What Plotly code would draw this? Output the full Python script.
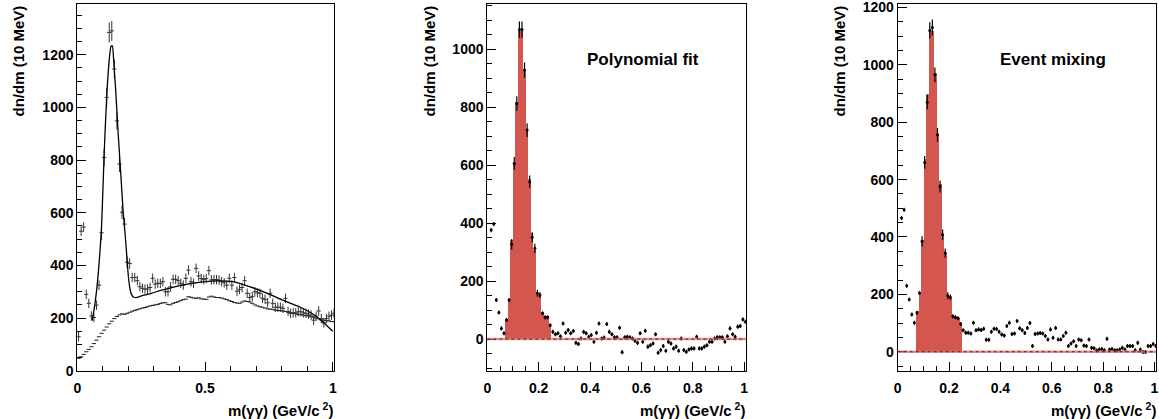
import plotly.graph_objects as go

# bin centres, 10 MeV bins (0.005 .. 1.005 GeV)
bins = [round(0.005 + 0.01 * i, 3) for i in range(101)]

# --- left panel: raw m(gg) spectrum -------------------------------------
raw_counts = [129, 530, 546, 290, 256, 208, 202, 249, 325, 524,
              810, 1038, 1285, 1291, 1146, 949, 785, 602, 557, 412,
              407, 354, 354, 342, 319, 313, 310, 310, 316, 351,
              329, 332, 332, 338, 300, 300, 319, 347, 347, 342,
              332, 325, 351, 382, 338, 332, 389, 360, 350, 346,
              350, 380, 345, 346, 346, 344, 338, 334, 325, 351,
              325, 354, 302, 309, 316, 342, 294, 278, 281, 300,
              296, 294, 275, 271, 258, 294, 256, 241, 241, 241,
              237, 275, 225, 218, 220, 220, 224, 224, 220, 218,
              215, 211, 192, 207, 227, 198, 182, 198, 207, 211, 218]
raw_err = [18] * 9 + [28, 32, 36, 38, 38, 36, 33, 30, 26, 24, 22, 20] + [18] * 80

mixed_bg = [47, 53, 62, 72, 81, 91, 103, 116, 129, 142,
            154, 166, 178, 188, 198, 206, 212, 216, 214, 218,
            222, 226, 229, 232, 235, 238, 240, 243, 246, 248,
            250, 252, 255, 258, 258, 252, 250, 256, 259, 262,
            266, 270, 272, 281, 279, 276, 275, 277, 273, 272,
            271, 280, 283, 280, 278, 278, 276, 273, 270, 266,
            263, 259, 257, 256, 261, 265, 263, 261, 256, 250,
            246, 243, 241, 238, 235, 234, 233, 230, 229, 228,
            227, 225, 222, 220, 218, 216, 214, 213, 211, 209,
            208, 205, 203, 200, 197, 193, 192, 190, 189, 187, 186]

fit_m = [0.058, 0.065, 0.075, 0.085, 0.095, 0.105, 0.115, 0.125, 0.132, 0.137,
         0.143, 0.151, 0.160, 0.170, 0.180, 0.187, 0.194, 0.200, 0.206, 0.212,
         0.221, 0.232, 0.251, 0.29, 0.33, 0.37, 0.41, 0.45, 0.50, 0.544,
         0.609, 0.674, 0.739, 0.804, 0.869, 0.934, 1.0]
fit_val = [190, 228, 300, 405, 550, 820, 1040, 1180, 1232, 1234,
           1170, 1053, 902, 750, 598, 520, 433, 357, 313, 290,
           279, 278, 284, 294, 306, 316, 325, 332, 338, 341,
           338, 319, 296, 268, 243, 208, 150]

# --- middle panel: polynomial background subtracted ---------------------
poly_counts = [None, 376, 397, 135, 92, 37, 20, 66, 135, 327,
               606, 813, 1068, 1068, 928, 721, 543, 351, 313, 158,
               152, 89, 75, 75, 48, 25, 17, 20, 10, 54,
               22, 31, 20, 28, -13, -17, 2, 25, 20, 8,
               14, -9, 22, 54, 2, 5, 52, 25, 17, 6,
               6, 39, -45, 6, 8, 6, 2, -6, -13, 20,
               -9, 29, -26, -21, -15, 17, -47, -38, -24, -40,
               -9, -15, -32, -26, -40, 2, -38, -44, -36, -32,
               -32, 8, -32, -32, -26, -21, -9, -9, 2, 6,
               6, 6, -9, 10, 37, 17, 8, 43, 45, 68, 60]
poly_peak = [71, 140, 342, 604, 819, 1064, 1064, 926, 718, 551,
             365, 307, 163, 152, 94, 79, 79, 52]

# --- right panel: event-mixing background subtracted --------------------
mix_counts = [None, 466, 495, 230, 182, 130, 101, 136, 205, 385,
              660, 870, 1120, 1130, 965, 756, 576, 408, 344, 195,
              190, 124, 120, 117, 97, 75, 66, 66, 64, 101,
              75, 78, 76, 80, 42, 42, 70, 80, 79, 70,
              60, 57, 90, 101, 62, 64, 107, 82, 75, 65,
              83, 100, 20, 62, 64, 65, 64, 55, 43, 78,
              49, 83, 43, 43, 55, 66, 20, 29, 37, 20,
              43, 40, 22, 20, 43, 14, 12, 4, 8, 10,
              5, 45, 8, 10, 5, 5, 8, 14, 8, 20,
              20, 20, 5, 31, 8, -1, -1, 20, 20, 27, 20]
mix_peak = [141, 205, 391, 671, 899, 1119, 1119, 971, 756, 585,
            410, 345, 192, 192, 125, 122, 118, 100]

sub_err = [7] * 9 + [18, 22, 25, 28, 28, 26, 24, 21, 18, 16, 12, 10] + [7] * 80
peak_bins = bins[7:25]

W, H = 1159, 419
FONT = "Liberation Sans"
RED = "#d4574f"


def px(x):
    return x / W


def py(y):
    return 1 - y / H


fig = go.Figure()

# left panel
fig.add_trace(go.Scatter(
    x=bins, y=mixed_bg, mode="markers", xaxis="x", yaxis="y",
    marker=dict(symbol="line-ew", size=3, line=dict(color="#222", width=1)),
    showlegend=False))
fig.add_trace(go.Scatter(
    x=bins, y=raw_counts, mode="markers", xaxis="x", yaxis="y",
    marker=dict(symbol="line-ew", size=3, line=dict(color="#333", width=1)),
    error_y=dict(type="data", array=raw_err, width=0, thickness=1, color="#333"),
    showlegend=False))
fig.add_trace(go.Scatter(
    x=fit_m, y=fit_val, mode="lines", xaxis="x", yaxis="y",
    line=dict(color="black", width=1.3, shape="spline", smoothing=0.6),
    showlegend=False))

# middle and right panels
for xa, ya, peak, counts in [("x2", "y2", poly_peak, poly_counts),
                             ("x3", "y3", mix_peak, mix_counts)]:
    fig.add_trace(go.Bar(
        x=peak_bins, y=peak, width=0.01, xaxis=xa, yaxis=ya,
        marker=dict(color=RED, line=dict(width=0)),
        showlegend=False))
    fig.add_trace(go.Scatter(
        x=bins, y=counts, mode="markers", xaxis=xa, yaxis=ya,
        marker=dict(symbol="circle", size=3, color="black"),
        error_y=dict(type="data", array=sub_err, width=0, thickness=1.2, color="black"),
        showlegend=False))

tickfont = dict(family=FONT, size=14, color="black", weight="bold")


def xaxis(dom, dtick, minor):
    return dict(domain=dom, range=[0, 1.006], dtick=dtick, ticks="inside", ticklen=9,
                tickcolor="black", showline=True, mirror=True, linecolor="black",
                linewidth=1, showgrid=False, zeroline=False, tickfont=tickfont,
                automargin=False, ticklabelstandoff=4,
                minor=dict(dtick=minor, ticks="inside", ticklen=5, tickcolor="black"))


def yaxis(rng, anchor):
    return dict(domain=[py(370.7), py(4)], range=rng, dtick=200, ticks="inside",
                ticklen=9, tickcolor="black", showline=True, mirror=True,
                linecolor="black", linewidth=1, showgrid=False, zeroline=False,
                tickfont=tickfont, anchor=anchor, automargin=False,
                ticklabeloverflow="allow",
                minor=dict(dtick=50, ticks="inside", ticklen=5, tickcolor="black"))


fig.update_layout(
    width=W, height=H,
    margin=dict(l=0, r=0, t=0, b=0, autoexpand=False),
    paper_bgcolor="white", plot_bgcolor="white",
    bargap=0,
    font=dict(family=FONT, color="black"),
    xaxis=dict(xaxis([px(77.3), px(334.3)], 0.5, 0.1), anchor="y"),
    yaxis=yaxis([0, 1393], "x"),
    xaxis2=dict(xaxis([px(487.3), px(745.7)], 0.2, 0.05), anchor="y2"),
    yaxis2=yaxis([-109, 1156], "x2"),
    xaxis3=dict(xaxis([px(897.7), px(1156)], 0.2, 0.05), anchor="y3"),
    yaxis3=yaxis([-66, 1212], "x3"),
)

# zero reference lines on the subtracted spectra
for xa, ya in [("x2", "y2"), ("x3", "y3")]:
    fig.add_shape(type="line", xref=xa + " domain", yref=ya, x0=0, x1=1, y0=0, y1=0,
                  line=dict(color="rgba(225,110,110,0.75)", width=2.5), layer="above")
    fig.add_shape(type="line", xref=xa + " domain", yref=ya, x0=0, x1=1, y0=0, y1=0,
                  line=dict(color="#5a1a1a", width=1, dash="dot"), layer="above")

title_font = dict(family=FONT, size=15, color="black", weight="bold")
for xc in [18, 429, 839]:
    fig.add_annotation(text="dn/dm (10 MeV)", textangle=-90, xref="paper", yref="paper",
                       x=px(xc), y=py(4), xanchor="center", yanchor="top",
                       showarrow=False, font=title_font)
for xr in [335, 747, 1158]:
    fig.add_annotation(text="m(\u03b3\u03b3) (GeV/c<sup> 2</sup>)", xref="paper", yref="paper",
                       x=px(xr), y=py(409), xanchor="right", yanchor="middle",
                       showarrow=False, font=title_font)

label_font = dict(family=FONT, size=17, color="black", weight="bold")
fig.add_annotation(text="Polynomial fit", xref="paper", yref="paper", x=px(643), y=py(59),
                   xanchor="center", yanchor="middle", showarrow=False, font=label_font)
fig.add_annotation(text="Event mixing", xref="paper", yref="paper", x=px(1053), y=py(60),
                   xanchor="center", yanchor="middle", showarrow=False, font=label_font)

# the page's default body margin would shift the fixed-size figure by 8px
fig.write_html("out.html", config={"displayModeBar": False},
               post_script="document.body.style.margin='0';"
                           "document.body.style.overflow='hidden';")
